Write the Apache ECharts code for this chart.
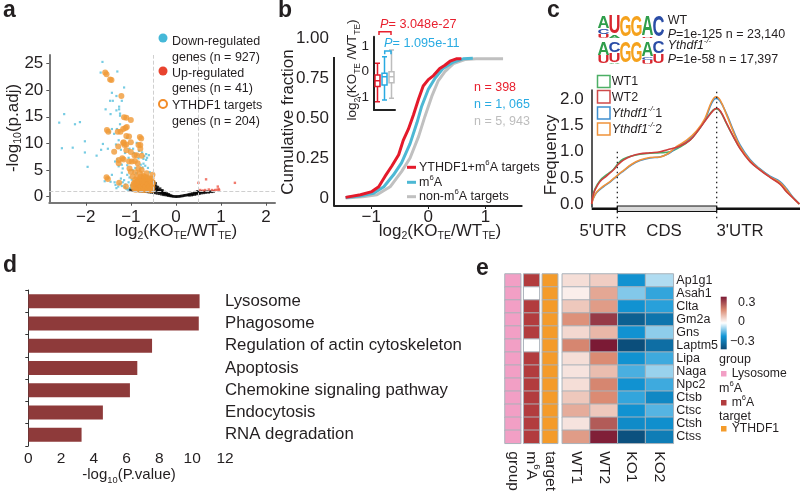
<!DOCTYPE html>
<html><head><meta charset="utf-8">
<style>html,body{margin:0;padding:0;background:#fff}#c{width:800px;height:494px}</style>
<script src="https://cdn.jsdelivr.net/npm/echarts@6/dist/echarts.min.js"></script>
</head><body><div id="c"></div>
<script>
// ---- Panel a: volcano
const volcanoBlack = [[-1.02,1.35],[-0.98,1.22],[-0.92,1.18],[-0.86,1.1],[-0.8,1.05],[-0.74,1.02],[-0.68,0.98],[-0.62,0.9],[-0.58,0.86],[-0.55,1.4],[-0.54,0.82],[-0.52,2.7],[-0.5,2.2],[-0.5,1.7],[-0.5,1.2],[-0.5,0.8],[-0.48,2.4],[-0.47,1.9],[-0.46,1.4],[-0.46,0.72],[-0.44,2.0],[-0.43,1.6],[-0.42,1.1],[-0.42,0.62],[-0.4,1.8],[-0.39,1.3],[-0.38,0.9],[-0.37,0.55],[-0.35,1.5],[-0.34,1.1],[-0.33,0.7],[-0.32,0.45],[-0.3,1.2],[-0.29,0.85],[-0.28,0.5],[-0.27,0.35],[-0.25,0.85],[-0.24,0.55],[-0.22,0.3],[-0.2,0.6],[-0.19,0.35],[-0.17,0.2],[-0.15,0.32],[-0.13,0.15],[-0.11,0.2],[-0.09,0.1],[-0.06,0.08],[-0.03,0.04],[0,0.02],[0.03,0.03],[0.06,0.05],[0.09,0.08],[0.12,0.12],[0.15,0.15],[0.18,0.22],[0.21,0.26],[0.24,0.3],[0.27,0.35],[0.3,0.42],[0.3,0.25],[0.33,0.5],[0.35,0.3],[0.37,0.6],[0.38,0.38],[0.41,0.68],[0.42,0.42],[0.44,0.85],[0.45,0.5],[0.47,0.72],[0.48,1.0],[0.5,0.55],[0.51,0.85],[0.53,0.62],[0.55,0.95],[0.57,0.68],[0.59,0.9],[0.62,0.72],[0.64,0.98],[0.67,0.78],[0.7,0.95],[0.73,0.82],[0.76,0.95],[0.8,0.92],[0.84,1.0],[-0.49,2.8],[-0.45,2.5],[-0.41,1.35],[-0.36,1.0],[-0.31,0.95],[-0.26,0.65],[-0.21,0.45],[-0.16,0.42]];
const volcanoBlue = [[-1.63,25.3],[-1.67,23.3],[-1.3,23.5],[-1.15,20.5],[-1.42,19.5],[-1.32,18.9],[-1.46,18],[-1.4,18],[-1.2,18],[-1.26,16.9],[-1.26,16.4],[-1.56,16.4],[-1.32,16.2],[-1.45,15.5],[-1.24,15.6],[-1.24,15.2],[-2.48,15.5],[-2.59,13.9],[-2.24,13.6],[-2.13,14],[-1.24,13.6],[-1.42,12.7],[-1.31,12.7],[-1.47,12.1],[-1.37,11.8],[-2.02,10.4],[-1.27,10.6],[-1.62,9.9],[-1.33,9.8],[-1.09,11],[-0.87,10.1],[-2.53,9.1],[-2.29,9.2],[-2.02,8.3],[-1.76,7.7],[-1.96,5.6],[-1.66,8.8],[-1.51,9],[-1.42,4.1],[-1.3,7],[-1.35,6.6],[-1.2,6],[-1.27,5.7],[-1.18,5.3],[-1.2,4.5],[-1.08,4.1],[-1.45,2.8],[-1.36,2.7],[-1.34,2.2],[-1.22,3.4],[-1.15,3.1],[-1.12,2.3],[-1.05,2.7],[-1.0,2.1],[-1.02,1.6],[-1.2,2.0],[-1.28,1.9],[-1.1,1.5],[-0.7,7.6],[-0.66,6.9],[-0.72,6.2],[-0.68,5.8],[-0.78,6.0],[-0.83,7.2],[-0.9,5.4],[-0.75,8.3],[-0.66,8.0],[-0.6,7.8],[-0.82,8.6],[-0.95,9.0],[-1.05,7.3],[-1.08,5.9],[-0.96,5.0],[-0.88,4.4],[-0.62,5.4],[-0.58,4.6],[-0.62,3.8],[-0.55,3.4],[-1.58,2.9],[-1.5,3.5],[-1.03,9.0],[-1.13,8.2],[-1.22,8.8],[-1.13,1.8],[-1.07,1.3],[-1.18,2.7],[-1.25,2.4],[-1.32,1.6],[-0.98,3.2],[-1.03,3.6],[-0.72,7.1],[-0.64,7.3],[-0.74,5.5],[-0.86,7.9],[-0.93,8.2]];
const volcanoRed = [[0.67,3.26],[0.5,2.6],[1.31,2.6],[0.93,1.9],[0.95,1.45],[0.87,1.25],[0.8,1.25],[0.65,1.25],[0.54,1.25],[0.73,1.35],[0.96,1.25],[0.84,1.1],[0.6,1.15],[0.91,1.3]];
const volcanoOrange = [[-1.57,23.3],[-1.54,23],[-1.46,22],[-1.43,21.9],[-1.21,18.9],[-1.15,14.9],[-1.1,14.8],[-1,14.4],[-1.53,12.5],[-1.5,12.2],[-1.29,12.2],[-1.23,12.2],[-1.17,12.7],[-1.12,12.9],[-1.09,13.1],[-1.1,11.4],[-1.04,11.3],[-0.8,11.2],[-0.77,10.9],[-1.17,10.1],[-1.1,9.8],[-1,10.2],[-0.83,9.7],[-1.37,8.44],[-1.28,9.4],[-1.16,10.2],[-1.14,9.7],[-0.79,9.7],[-0.79,9],[-1,8.4],[-1.1,8.7],[-1.19,7.2],[-1.27,6.9],[-1.16,7],[-1.27,6.3],[-0.92,7.8],[-0.87,7.8],[-0.76,7.7],[-1.04,6.6],[-0.98,6.6],[-0.91,6.7],[-0.85,6.3],[-1.54,3.65],[-1.51,3.3],[-1.26,2.6],[-1.11,1.9],[-1.03,5.3],[-1,4.7],[-0.96,3.8],[-0.83,5.3],[-0.76,5],[-0.65,4.4],[-0.52,4.1],[-0.9,4.6],[-0.8,4.4],[-0.72,3.9],
 [-0.95,2.0],[-0.93,1.6],[-0.92,2.6],[-0.9,3.2],[-0.88,2.2],[-0.87,1.5],[-0.86,3.6],[-0.85,2.8],[-0.83,1.9],[-0.82,1.35],[-0.81,3.3],[-0.8,2.5],[-0.78,1.7],[-0.78,3.8],[-0.76,3.0],[-0.75,2.2],[-0.74,1.3],[-0.73,3.5],[-0.71,2.7],[-0.7,1.8],[-0.69,1.25],[-0.68,3.3],[-0.66,2.3],[-0.65,1.55],[-0.64,2.9],[-0.63,3.6],[-0.61,1.95],[-0.6,1.25],[-0.59,2.55],[-0.58,3.1],[-0.56,1.6],[-0.55,2.1],[-0.53,1.25],[-0.52,1.8],[-0.51,2.6],[-0.54,3.4],
 [-0.9,1.3],[-0.84,2.4],[-0.79,2.1],[-0.77,1.35],[-0.72,2.4],[-0.71,1.45],[-0.67,1.9],[-0.67,2.8],[-0.62,2.4],[-0.62,1.5],[-0.58,1.9],[-0.57,1.3],[-0.56,2.9],[-0.53,2.3],[-0.75,2.8],[-0.82,2.9],[-0.88,2.7],[-0.69,3.7],[-0.6,3.3],[-0.94,2.4]];
const volcanoXTicks = [-2,-1,0,1,2];
const volcanoYTicks = [0,5,10,15,20,25];

// ---- Panel b: cumulative fraction
const cdfTargets = [[-1.45,0.004],[-1.19,0.02],[-0.99,0.04],[-0.87,0.07],[-0.76,0.135],[-0.64,0.2],[-0.52,0.27],[-0.44,0.36],[-0.35,0.43],[-0.26,0.52],[-0.17,0.62],[-0.09,0.7],[0,0.74],[0.09,0.765],[0.2,0.81],[0.29,0.83],[0.38,0.855],[0.49,0.87],[0.58,0.87]];
const cdfM6A = [[-1.45,0.003],[-1.2,0.012],[-0.96,0.03],[-0.78,0.07],[-0.61,0.145],[-0.47,0.22],[-0.32,0.34],[-0.2,0.47],[-0.12,0.57],[0,0.68],[0.12,0.75],[0.26,0.81],[0.44,0.85],[0.61,0.87],[0.78,0.873]];
const cdfNon = [[-1.45,0],[-1.15,0.008],[-0.9,0.02],[-0.67,0.07],[-0.47,0.165],[-0.32,0.25],[-0.17,0.385],[-0.06,0.51],[0.06,0.635],[0.17,0.73],[0.29,0.79],[0.44,0.84],[0.64,0.865],[0.84,0.87],[1.31,0.87]];
const cdfXTicks = [-1,0,1];
const cdfYTicks = [0,0.25,0.5,0.75,1];
const boxCategories = ['YTHDF1+m6A','m6A','non-m6A'];
const boxTargets = [-1.17,-0.58,-0.35,-0.13,0.33];
const boxM6A = [-1.1,-0.52,-0.2,-0.06,0.58];
const boxNon = [-1.03,-0.43,-0.2,0,0.84];

// ---- Panel c: metagene frequency
const metaWT1 = [[0,0],[0.5,0.15],[1.6,0.29],[4,0.45],[7.2,0.56],[10.4,0.66],[12.8,0.78],[15.2,0.86],[19.2,0.92],[23.2,0.95],[28,0.97],[32.8,0.98],[37.6,1.0],[42.4,1.09],[47.2,1.22],[51.2,1.41],[55.2,1.64],[58.4,1.8],[60,1.82],[61.9,1.76],[64.8,1.53],[68,1.29],[71.2,1.07],[76,0.82],[80.8,0.66],[85.6,0.52],[90.4,0.39],[93.6,0.24],[96.8,0.12],[99.7,0]];
const metaWT2 = [[0,0],[0.5,0.14],[1.6,0.27],[4,0.43],[7.2,0.54],[10.4,0.65],[12.8,0.76],[15.2,0.84],[19.2,0.92],[23.2,0.96],[28,0.98],[32.8,1.0],[37.6,1.05],[42.4,1.11],[47.2,1.22],[51.2,1.41],[55.2,1.63],[58.4,1.79],[60,1.83],[61.9,1.77],[64.8,1.54],[68,1.29],[71.2,1.06],[76,0.81],[80.8,0.65],[85.6,0.51],[90.4,0.38],[93.6,0.23],[96.8,0.11],[99.7,0]];
const metaKO1 = [[0,0],[0.8,0.11],[2.4,0.22],[5.6,0.33],[8.8,0.42],[12,0.53],[15.2,0.63],[19.2,0.75],[23.2,0.83],[28,0.88],[32.8,0.9],[36.8,0.96],[40.8,1.08],[45.6,1.2],[50.4,1.38],[54.4,1.61],[57.6,1.93],[59.7,2.02],[61.6,1.97],[64.8,1.72],[68,1.41],[71.2,1.13],[76,0.85],[80.8,0.67],[85.6,0.53],[90.4,0.43],[93.6,0.29],[96.8,0.12],[99.7,0]];
const metaKO2 = [[0,0],[0.8,0.11],[2.4,0.23],[5.6,0.34],[8.8,0.43],[12,0.54],[15.2,0.64],[19.2,0.76],[23.2,0.84],[28,0.89],[32.8,0.9],[36.8,0.97],[40.8,1.1],[45.6,1.22],[50.4,1.4],[54.4,1.64],[57.6,1.96],[59.7,2.05],[61.6,1.99],[64.8,1.7],[68,1.38],[71.2,1.1],[76,0.83],[80.8,0.66],[85.6,0.52],[90.4,0.41],[93.6,0.27],[96.8,0.11],[99.7,0]];
const metaYTicks = [0,0.5,1,1.5,2];
const logoWT = [[['A',0.55],['C',0.25],['U',0.2]],[['U',0.85],['A',0.15]],[['G',1]],[['G',1]],[['A',0.95],['U',0.05]],[['C',1]]];
const logoKO = [[['A',0.62],['U',0.38]],[['C',0.5],['U',0.42],['A',0.08]],[['G',1]],[['G',1]],[['A',0.68],['C',0.14],['U',0.18]],[['C',0.55],['U',0.45]]];

// ---- Panel d: pathways
const pathways = ['Lysosome','Phagosome','Regulation of actin cytoskeleton','Apoptosis','Chemokine signaling pathway','Endocytosis','RNA degradation'];
const pathwayValues = [10.45,10.4,7.55,6.65,6.2,4.55,3.25];

// ---- Panel e: heatmap
const genes = ['Ap1g1','Asah1','Clta','Gm2a','Gns','Laptm5','Lipa','Naga','Npc2','Ctsb','Ctsc','Ctsh','Ctss'];
const samples = ['WT1','WT2','KO1','KO2'];
const valuesWT1 = [0.06,0.03,0.1,0.2,0.07,0.22,0.06,0.05,0.06,0.1,0.15,0.05,0.18];
const valuesWT2 = [0.09,0.16,0.18,0.36,0.13,0.42,0.21,0.12,0.22,0.21,0.1,0.3,0.41];
const valuesKO1 = [-0.22,-0.11,-0.22,-0.36,-0.22,-0.41,-0.22,-0.16,-0.22,-0.18,-0.22,-0.24,-0.4];
const valuesKO2 = [-0.07,-0.18,-0.19,-0.3,-0.1,-0.32,-0.17,-0.09,-0.17,-0.25,-0.15,-0.23,-0.28];
const annGroup = [1,1,1,1,1,1,1,1,1,1,1,1,1];
const annM6A = [2,0,2,2,2,0,2,2,2,2,2,2,2];
const annTarget = [3,3,3,3,3,3,3,3,3,3,3,3,3];
const heatColors = ['#0b4a76','#1196d6','#ffffff','#db8b73','#7b1a35'];

const FF = '"Liberation Sans",Arial,sans-serif', INK = '#231f20';
const rs = (size) => ({
  n:{fontSize:size,lineHeight:size+5,fontFamily:FF,fill:INK,color:INK},
  s:{fontSize:size*0.62,lineHeight:size*0.62,verticalAlign:'bottom',fontFamily:FF,color:INK,fill:INK},
  u:{fontSize:size*0.62,lineHeight:size*0.62,verticalAlign:'top',fontFamily:FF,color:INK,fill:INK},
  i:{fontSize:size,lineHeight:size+5,fontStyle:'italic',fontFamily:FF,color:INK,fill:INK},
  iu:{fontSize:size*0.62,lineHeight:size*0.62,verticalAlign:'top',fontStyle:'italic',fontFamily:FF,color:INK,fill:INK},
  r:{fontSize:size,lineHeight:size+5,fontFamily:FF,color:'#e8202e',fill:'#e8202e'},
  ri:{fontSize:size,lineHeight:size+5,fontStyle:'italic',fontFamily:FF,color:'#e8202e',fill:'#e8202e'},
  b:{fontSize:size,lineHeight:size+5,fontFamily:FF,color:'#29abe2',fill:'#29abe2'},
  bi:{fontSize:size,lineHeight:size+5,fontStyle:'italic',fontFamily:FF,color:'#29abe2',fill:'#29abe2'}
});
const T = (text,x,y,o={}) => ({type:'text',x,y,rotation:o.rot||0,silent:true,z:50,style:{text,fontSize:o.size||12.5,fontFamily:FF,fill:o.fill||INK,fontWeight:o.weight||'normal',fontStyle:o.style||'normal',align:o.align||'left',verticalAlign:'middle',rich:o.rich?rs(o.size||12.5):undefined}});
const L = (x1,y1,x2,y2,stroke,width,dash) => ({type:'line',silent:true,z:40,shape:{x1,y1,x2,y2},style:{stroke,lineWidth:width,lineDash:dash||null}});
const PL = (pts,stroke) => ({type:'polyline',silent:true,z:40,shape:{points:pts},style:{stroke,lineWidth:1.5,fill:null}});
const R = (x,y,w,h,fill,stroke,lw) => ({type:'rect',silent:true,z:40,shape:{x,y,width:w,height:h},style:{fill,stroke:stroke||null,lineWidth:lw||0}});
const C = (cx,cy,r,fill,stroke,lw) => ({type:'circle',silent:true,z:40,shape:{cx,cy,r},style:{fill,stroke:stroke||null,lineWidth:lw||0}});

const logoColors = {A:'#2f9e4b',U:'#d8262e',G:'#f5a21d',C:'#2b4da6'};
function logo(rows,x0,y0,w,h){
  const out=[];
  rows.forEach((col,i)=>{
    let y=y0;
    col.forEach(([ch,share])=>{
      const hh=h*share;
      const adv={A:0.722,U:0.722,G:0.778,C:0.722}[ch]*30;
      out.push({type:'text',x:x0+w*(i+0.5),y:y+hh/2,scaleX:(w+1)/adv,scaleY:hh/21.5,silent:true,z:45,style:{text:ch,fontSize:30,fontWeight:'bold',fontFamily:FF,fill:logoColors[ch],align:'center',verticalAlign:'middle'}});
      y+=hh;
    });
  });
  return out;
}
const colorBarFill = {type:'linear',x:0,y:1,x2:0,y2:0,colorStops:heatColors.map((color,i)=>({offset:i/(heatColors.length-1),color}))};

const graphic = [
  T('a',3,11,{size:23,weight:'bold'}),T('b',278,11,{size:23,weight:'bold'}),T('c',547,11,{size:23,weight:'bold'}),
  T('d',3,266,{size:23,weight:'bold'}),T('e',476,269,{size:23,weight:'bold'}),
  // a
  C(163,38,4.5,'#45b8d8'),C(163,71,4.5,'#e8432e'),C(163,104,4,'#fff','#f28c28',2),
  T('Down-regulated',172,41.7),T('genes (n = 927)',172,57.3),T('Up-regulated',172,73.3),T('genes (n = 41)',172,89),T('YTHDF1 targets',172,106),T('genes (n = 204)',172,121.7),
  T('{n|-log}{s|10}{n|(p.adj)}',13,128,{size:17,rot:Math.PI/2,align:'center',rich:true}),
  T('{n|log}{s|2}{n|(KO}{s|TE}{n|/WT}{s|TE}{n|)}',176,231,{size:17,align:'center',rich:true}),
  // b
  L(334,57,334,206,'#222',2),
  T('Cumulative fraction',288,122,{size:17,rot:Math.PI/2,align:'center'}),
  T('{n|log}{s|2}{n|(KO}{s|TE}{n|/WT}{s|TE}{n|)}',440,231,{size:17,align:'center',rich:true}),
  T('{n|log}{s|2}{n|(KO}{s|TE}{n| /WT}{s|TE}{n|)}',352,70,{size:13.5,rot:Math.PI/2,align:'center',rich:true}),
  T('{ri|P}{r|= 3.048e-27}',380,24,{size:12.7,rich:true}),
  T('{bi|P}{b|= 1.095e-11}',384,43,{size:12.7,rich:true}),
  PL([[379,35],[379,31.7],[391,31.7],[391,35]],'#e8202e'),
  PL([[384.7,54.3],[384.7,51],[391,51],[391,54.3]],'#29abe2'),
  L(407,167.3,416,167.3,'#e41a2b',3),L(407,182.3,416,182.3,'#4db8d4',3),L(407,196.7,416,196.7,'#c0c0c0',3),
  T('{n|YTHDF1+m}{u|6}{n|A targets}',419,167.3,{rich:true}),
  T('{n|m}{u|6}{n|A}',419,182.3,{rich:true}),
  T('{n|non-m}{u|6}{n|A targets}',419,196.7,{rich:true}),
  T('n = 398',474,87.7,{fill:'#e8202e'}),T('n = 1, 065',474,105,{fill:'#29abe2'}),T('n = 5, 943',474,121.7,{fill:'#bdbdbd'}),
  // c
  ...logo(logoWT,598,17.5,11,21),
  ...logo(logoKO,598,42.8,11,21.5),
  T('WT',667.7,20.7),T('{i|P}{n|=1e-125 n = 23,140}',667.7,35,{rich:true}),
  T('{i|Ythdf1}{iu|-/-}',667.7,45.7,{rich:true}),T('{i|P}{n|=1e-58 n = 17,397}',667.7,59.3,{rich:true}),
  R(597.5,75.5,12.5,12,'#fff','#4caf65',1.5),R(597.5,90.5,12.5,12.5,'#fff','#cf4a4a',1.5),R(597.5,107,12.5,12,'#fff','#3f8fcf',1.5),R(597.5,123,12.5,12,'#fff','#f0923a',1.5),
  T('WT1',611.7,81.7),T('WT2',611.7,97.3),
  T('{i|Ythdf1}{iu|-/-}{n|1}',611.7,113.3,{rich:true}),T('{i|Ythdf1}{iu|-/-}{n|2}',611.7,130,{rich:true}),
  T('Frequency',551,155,{size:17,rot:Math.PI/2,align:'center'}),
  L(591.7,208.7,800,208.7,'#111',2.5),
  R(617.3,206,99.4,5.5,'#d9d9d9','#111',1.2),
  L(617.3,151.7,617.3,220,'#111',1.2,[1.5,3.5]),L(716.7,91.7,716.7,220,'#111',1.2,[1.5,3.5]),
  T("5'UTR",603,231.5,{size:16.8,align:'center'}),T('CDS',664,231.5,{size:16.8,align:'center'}),T("3'UTR",740,231.5,{size:16.8,align:'center'}),
  // d
  T('{n|-log}{s|10}{n|(P.value)}',129,475,{size:15,align:'center',rich:true}),
  // e
  R(720.7,296.7,6,52.6,colorBarFill),
  T('0.3',738,302.7),T('0',738,322),T('\u22120.3',730,341.3),
  T('group',719,360),R(721,371,5.5,5.5,'#f29fc5'),T('Lysosome',731.7,373.7,{size:12.2}),
  T('{n|m}{u|6}{n|A}',719,389,{rich:true}),R(721,400,5.5,5.5,'#b23c3e'),T('{n|m}{u|6}{n|A}',731.7,402.7,{size:12.2,rich:true}),
  T('target',719,417),R(721,426,5.5,5.5,'#f49b2a'),T('YTHDF1',731.7,428.5,{size:12.2})
];

const axText = (size,extra) => Object.assign({fontSize:size,fontFamily:FF,color:INK},extra||{});
const hm = (col,ci) => col.map((v,ri)=>[ci,ri,v]);
const annAxis = (name,gi) => ({type:'category',gridIndex:gi,data:[name],axisLine:{show:false},axisTick:{show:false},
  axisLabel:axText(15.5,{rotate:-90,margin:8,interval:0,formatter:name==='m6A'?'{n|m}{u|6}{n|A}':name,rich:rs(15.5)})});
const annY = (gi) => ({type:'category',gridIndex:gi,inverse:true,data:genes,axisLine:{show:false},axisTick:{show:false},axisLabel:{show:false}});
const annSeries = (col,gi) => ({type:'heatmap',xAxisIndex:gi,yAxisIndex:gi+1,data:hm(col,0),itemStyle:{borderColor:'#a9b2ba',borderWidth:1},animation:false,silent:true,emphasis:{disabled:true}});

const option = {
  animation:false,backgroundColor:'#fff',textStyle:{fontFamily:FF},
  grid:[
    {left:49.3,top:55,width:225.7,height:147.7},
    {left:334,top:38,width:187.7,height:168},
    {left:374,top:36.7,width:21,height:73.3},
    {left:591.7,top:90,width:208.3,height:117},
    {left:28.3,top:290,width:196.7,height:156},
    {left:505,top:274,width:15.7,height:169.3},
    {left:523.7,top:274,width:15.7,height:169.3},
    {left:542.3,top:274,width:15.4,height:169.3},
    {left:562.3,top:274,width:111,height:169.3}
  ],
  xAxis:[
    {type:'value',gridIndex:0,min:-2.81,max:2.2,splitLine:{show:false},axisLine:{onZero:false,lineStyle:{color:'#777',width:2}},axisTick:{length:3,lineStyle:{color:'#555'},customValues:volcanoXTicks},axisLabel:axText(17,{margin:6,customValues:volcanoXTicks,formatter:v=>v<0?'\u2212'+(-v):''+v})},
    {type:'value',gridIndex:1,min:-1.654,max:1.637,splitLine:{show:false},axisLine:{onZero:false,lineStyle:{color:'#222',width:2}},axisTick:{length:3,lineStyle:{color:'#222'},customValues:cdfXTicks},axisLabel:axText(17,{margin:3,customValues:cdfXTicks,formatter:v=>v<0?'\u2212'+(-v):''+v})},
    {type:'category',gridIndex:2,data:boxCategories,axisLine:{onZero:false,lineStyle:{color:'#222',width:2}},axisTick:{show:false},axisLabel:{show:false}},
    {type:'value',gridIndex:3,min:0,max:100,show:false},
    {type:'value',gridIndex:4,min:0,max:12,interval:2,splitLine:{show:false},axisLine:{onZero:false,lineStyle:{color:'#333',width:1}},axisTick:{length:3,lineStyle:{color:'#333'}},axisLabel:axText(15.5,{margin:5})},
    annAxis('group',5),annAxis('m6A',6),annAxis('target',7),
    {type:'category',gridIndex:8,data:samples,axisLine:{show:false},axisTick:{show:false},axisLabel:axText(15.5,{rotate:-90,margin:8,interval:0})}
  ],
  yAxis:[
    {type:'value',gridIndex:0,min:-1.13,max:26.6,splitLine:{show:false},axisLine:{show:true,onZero:false,lineStyle:{color:'#777',width:2}},axisTick:{show:true,length:3,lineStyle:{color:'#555'},customValues:volcanoYTicks},axisLabel:axText(17,{margin:6,customValues:volcanoYTicks})},
    {type:'value',gridIndex:1,min:-0.05,max:1,splitLine:{show:false},axisLine:{show:false,onZero:false},axisTick:{show:false},axisLabel:axText(17,{margin:5,customValues:cdfYTicks,formatter:v=>v===0?'0':v.toFixed(2)})},
    {type:'value',gridIndex:2,min:-1.49,max:1.36,splitLine:{show:false},axisLine:{show:true,onZero:false,lineStyle:{color:'#222',width:2}},axisTick:{show:false},axisLabel:axText(13.5,{margin:5,customValues:[-1,0,1]})},
    {type:'value',gridIndex:3,min:-0.057,max:2.18,splitLine:{show:false},axisLine:{show:true,onZero:false,lineStyle:{color:'#222',width:1.5}},axisTick:{show:false},axisLabel:axText(17,{margin:8,customValues:metaYTicks,formatter:v=>v.toFixed(1)})},
    {type:'category',gridIndex:4,inverse:true,data:pathways,axisLine:{show:true,onZero:false,lineStyle:{color:'#333',width:1}},axisTick:{show:true,length:3,lineStyle:{color:'#333'}},axisLabel:{show:false}},
    {type:'category',gridIndex:4,inverse:true,position:'right',data:pathways,axisLine:{show:false},axisTick:{show:false},axisLabel:axText(16.8,{margin:0,interval:0})},
    annY(5),annY(6),annY(7),
    {type:'category',gridIndex:8,inverse:true,position:'right',data:genes,axisLine:{show:false},axisTick:{show:false},axisLabel:axText(12.5,{margin:3,interval:0})}
  ],
  visualMap:[
    {type:'continuous',show:false,min:-0.42,max:0.42,seriesIndex:[17],inRange:{color:heatColors}},
    {type:'piecewise',show:false,seriesIndex:[14,15,16],pieces:[{value:0,color:'#ffffff'},{value:1,color:'#f29fc5'},{value:2,color:'#b23c3e'},{value:3,color:'#f49b2a'}]}
  ],
  series:[
    {type:'scatter',xAxisIndex:0,yAxisIndex:0,data:volcanoBlack,symbol:'rect',symbolSize:2.6,itemStyle:{color:'#000'},silent:true,
      markLine:{silent:true,symbol:'none',animation:false,label:{show:false},lineStyle:{color:'#cfcfcf',type:'dashed',width:1},data:[{xAxis:-0.5},{xAxis:0.5},{yAxis:1}]}},
    {type:'scatter',xAxisIndex:0,yAxisIndex:0,data:volcanoBlue,symbol:'rect',symbolSize:2.2,itemStyle:{color:'#55bfdc'},silent:true},
    {type:'scatter',xAxisIndex:0,yAxisIndex:0,data:volcanoRed,symbol:'rect',symbolSize:2.4,itemStyle:{color:'#ee5a4a'},silent:true},
    {type:'scatter',xAxisIndex:0,yAxisIndex:0,data:volcanoOrange,symbol:'circle',symbolSize:6,itemStyle:{color:'#f09a37'},silent:true},
    {type:'line',xAxisIndex:1,yAxisIndex:1,data:cdfNon,showSymbol:false,lineStyle:{color:'#c0c0c0',width:3},silent:true},
    {type:'line',xAxisIndex:1,yAxisIndex:1,data:cdfM6A,showSymbol:false,lineStyle:{color:'#4db8d4',width:3},silent:true},
    {type:'line',xAxisIndex:1,yAxisIndex:1,data:cdfTargets,showSymbol:false,lineStyle:{color:'#e41a2b',width:3},silent:true},
    {type:'boxplot',xAxisIndex:2,yAxisIndex:2,boxWidth:[5,5],silent:true,itemStyle:{color:'#fff',borderWidth:1.5},
      data:[{value:boxTargets,itemStyle:{borderColor:'#e41a2b'}},{value:boxM6A,itemStyle:{borderColor:'#29abe2'}},{value:boxNon,itemStyle:{borderColor:'#bdbdbd'}}]},
    {type:'line',xAxisIndex:3,yAxisIndex:3,data:metaWT1,smooth:0.4,showSymbol:false,lineStyle:{color:'#4caf65',width:1.6},silent:true},
    {type:'line',xAxisIndex:3,yAxisIndex:3,data:metaKO1,smooth:0.4,showSymbol:false,lineStyle:{color:'#3f8fcf',width:1.6},silent:true},
    {type:'line',xAxisIndex:3,yAxisIndex:3,data:metaKO2,smooth:0.4,showSymbol:false,lineStyle:{color:'#f0923a',width:1.6},silent:true},
    {type:'line',xAxisIndex:3,yAxisIndex:3,data:metaWT2,smooth:0.4,showSymbol:false,lineStyle:{color:'#cf3d3d',width:1.6},silent:true},
    {type:'bar',xAxisIndex:4,yAxisIndex:4,data:pathwayValues,barWidth:14,itemStyle:{color:'#8e3a3a'},silent:true},
    {type:'bar',xAxisIndex:4,yAxisIndex:5,data:[],silent:true},
    annSeries(annGroup,5),annSeries(annM6A,6),annSeries(annTarget,7),
    {type:'heatmap',xAxisIndex:8,yAxisIndex:9,silent:true,emphasis:{disabled:true},itemStyle:{borderColor:'#a9b2ba',borderWidth:1},
      data:[...hm(valuesWT1,0),...hm(valuesWT2,1),...hm(valuesKO1,2),...hm(valuesKO2,3)]}
  ],
  graphic:graphic
};
const chart = echarts.init(document.getElementById('c'),null,{renderer:'canvas'});
chart.setOption(option);
</script></body></html>
